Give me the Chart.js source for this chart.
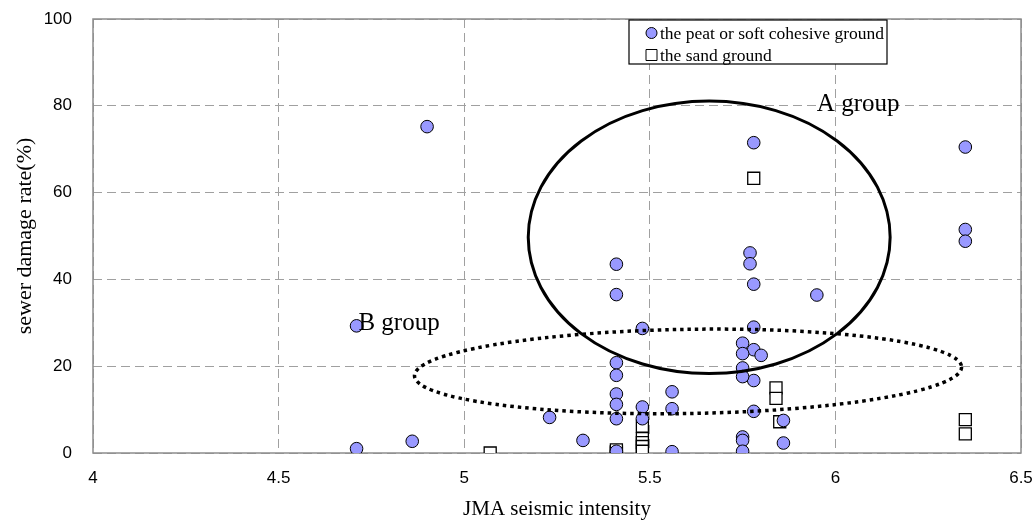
<!DOCTYPE html>
<html>
<head>
<meta charset="utf-8">
<script src="https://cdn.jsdelivr.net/npm/chart.js@4"></script>
<style>
    body { margin: 0; background: #fff; }
    #wrap { width: 1034px; height: 522px; }
</style>
</head>
<body>
<div id="wrap"><canvas id="myChart" width="1034" height="522"></canvas></div>
<script>
// peat or soft cohesive ground (circles)
var peatX = [4.71, 4.71, 4.86, 4.90, 5.23, 5.32,
    5.41, 5.41, 5.41, 5.41, 5.41, 5.41, 5.41, 5.41,
    5.48, 5.48, 5.48,
    5.56, 5.56, 5.56,
    5.77, 5.77,
    5.78, 5.78, 5.78, 5.78, 5.78, 5.78,
    5.75, 5.75, 5.75, 5.75, 5.75, 5.75, 5.75,
    5.80, 5.86, 5.86, 5.95,
    6.35, 6.35, 6.35];
var peatY = [1.0, 29.3, 2.7, 75.2, 8.2, 2.9,
    43.5, 36.5, 20.8, 17.9, 13.6, 11.2, 7.9, 0.4,
    28.7, 10.6, 7.9,
    14.1, 10.2, 0.3,
    46.1, 43.6,
    71.5, 38.9, 29.0, 23.8, 16.7, 9.6,
    25.3, 22.9, 19.6, 17.6, 3.7, 2.9, 0.4,
    22.5, 7.5, 2.3, 36.4,
    70.5, 51.5, 48.8];

// sand ground (squares)
var sandX = [5.07, 5.41, 5.41, 5.41, 5.48, 5.48, 5.48, 5.48, 5.48, 5.78, 5.84, 5.84, 5.85, 6.35, 6.35];
var sandY = [0.0, 0.0, 0.3, 0.7, 6.2, 3.3, 2.4, 1.5, 0.4, 63.3, 15.0, 12.6, 7.2, 7.7, 4.4];

var xTicks = [4, 4.5, 5, 5.5, 6, 6.5];
var yTicks = [0, 20, 40, 60, 80, 100];

var legendLabels = ['the peat or soft cohesive ground', 'the sand ground'];
var xTitle = 'JMA seismic intensity';
var yTitle = 'sewer damage rate(%)';

// group annotations, in data units
var groupA = { cx: 5.66, cy: 49.7, rx: 0.4875, ry: 31.4, label: 'A group', lx: 5.95, ly: 78.9 };
var groupB = { cx: 5.603, cy: 18.8, rx: 0.737, ry: 9.7, label: 'B group', lx: 4.715, ly: 28.4 };

function toPoints(xs, ys) {
    return xs.map(function (v, i) { return { x: v, y: ys[i] }; });
}

var serif = '"Liberation Serif", "Times New Roman", serif';
var sans = '"Liberation Sans", Arial, sans-serif';

var overlay = {
    id: 'overlay',
    beforeDatasetsDraw: function (chart) {
        var ctx = chart.ctx, a = chart.chartArea;
        ctx.save();
        ctx.strokeStyle = '#8c8c8c';
        ctx.lineWidth = 1.5;
        ctx.strokeRect(a.left, a.top, a.right - a.left, a.bottom - a.top);
        ctx.restore();
    },
    afterDatasetsDraw: function (chart) {
        var ctx = chart.ctx;
        var xs = chart.scales.x, ys = chart.scales.y;

        // A group - solid ellipse
        ctx.save();
        ctx.strokeStyle = '#000';
        ctx.lineWidth = 3;
        var ax = xs.getPixelForValue(groupA.cx), ay = ys.getPixelForValue(groupA.cy);
        var arx = xs.getPixelForValue(groupA.cx + groupA.rx) - ax;
        var ary = ay - ys.getPixelForValue(groupA.cy + groupA.ry);
        ctx.beginPath();
        ctx.ellipse(ax, ay, arx, ary, 0, 0, Math.PI * 2);
        ctx.stroke();

        // B group - dotted ellipse
        var bx = xs.getPixelForValue(groupB.cx), by = ys.getPixelForValue(groupB.cy);
        var brx = xs.getPixelForValue(groupB.cx + groupB.rx) - bx;
        var bry = by - ys.getPixelForValue(groupB.cy + groupB.ry);
        ctx.lineWidth = 3.5;
        ctx.setLineDash([3.5, 4]);
        ctx.beginPath();
        ctx.ellipse(bx, by, brx, bry, -0.016, 0, Math.PI * 2);
        ctx.stroke();
        ctx.setLineDash([]);

        // group labels
        ctx.fillStyle = '#000';
        ctx.font = '25px ' + serif;
        ctx.textBaseline = 'alphabetic';
        ctx.textAlign = 'left';
        ctx.fillText(groupA.label, xs.getPixelForValue(groupA.lx), ys.getPixelForValue(groupA.ly));
        ctx.fillText(groupB.label, xs.getPixelForValue(groupB.lx), ys.getPixelForValue(groupB.ly));
        ctx.restore();

        // legend box
        ctx.save();
        var lx = 629, ly = 20, lw = 258, lh = 44;
        ctx.fillStyle = '#fff';
        ctx.fillRect(lx, ly, lw, lh);
        ctx.strokeStyle = '#000';
        ctx.lineWidth = 1.2;
        ctx.strokeRect(lx, ly, lw, lh);
        chart.data.datasets.forEach(function (ds, i) {
            var my = ly + 13 + i * 22;
            ctx.fillStyle = ds.backgroundColor;
            ctx.strokeStyle = ds.borderColor;
            ctx.lineWidth = 1;
            ctx.beginPath();
            if (ds.pointStyle === 'rect') {
                ctx.rect(646, my - 5.5, 11, 11);
            } else {
                ctx.arc(651.5, my, 5.5, 0, Math.PI * 2);
            }
            ctx.fill();
            ctx.stroke();
            ctx.fillStyle = '#000';
            ctx.font = '17.5px ' + serif;
            ctx.textBaseline = 'middle';
            ctx.fillText(legendLabels[i], 660, my + 1);
        });
        ctx.restore();
    }
};

var ctx = document.getElementById('myChart').getContext('2d');
var myChart = new Chart(ctx, {
    type: 'scatter',
    data: {
        datasets: [{
            label: legendLabels[0],
            data: toPoints(peatX, peatY),
            pointStyle: 'circle',
            pointRadius: 6.3,
            pointHoverRadius: 6.3,
            backgroundColor: '#9999ff',
            borderColor: '#000',
            borderWidth: 1
        }, {
            label: legendLabels[1],
            data: toPoints(sandX, sandY),
            pointStyle: 'rect',
            pointRadius: 8.5,
            pointHoverRadius: 8.5,
            backgroundColor: '#ffffff',
            borderColor: '#000',
            borderWidth: 1.3
        }]
    },
    options: {
        responsive: false,
        animation: false,
        layout: {
            padding: { left: 0, right: 13, top: 19, bottom: 0 }
        },
        plugins: {
            legend: { display: false },
            tooltip: { enabled: false }
        },
        scales: {
            x: {
                type: 'linear',
                min: xTicks[0],
                max: xTicks[xTicks.length - 1],
                afterBuildTicks: function (scale) {
                    scale.ticks = xTicks.map(function (v) { return { value: v }; });
                },
                afterFit: function (scale) {
                    scale.height = 69;
                    scale.paddingLeft = 0;
                    scale.paddingRight = 0;
                },
                grid: {
                    color: '#a0a0a0',
                    lineWidth: 1,
                    drawTicks: false
                },
                border: { display: false, dash: [9, 5] },
                ticks: {
                    padding: 15,
                    color: '#000',
                    font: { family: sans, size: 17 },
                    callback: function (value) { return String(value); }
                },
                title: {
                    display: true,
                    text: xTitle,
                    color: '#000',
                    padding: { top: 0, bottom: 0 },
                    font: { family: serif, size: 21 }
                }
            },
            y: {
                min: yTicks[0],
                max: yTicks[yTicks.length - 1],
                afterBuildTicks: function (scale) {
                    scale.ticks = yTicks.map(function (v) { return { value: v }; });
                },
                afterFit: function (scale) {
                    scale.width = 93;
                    scale.paddingTop = 0;
                    scale.paddingBottom = 0;
                },
                grid: {
                    color: '#a0a0a0',
                    lineWidth: 1,
                    drawTicks: false
                },
                border: { display: false, dash: [9, 5] },
                ticks: {
                    padding: 21,
                    color: '#000',
                    font: { family: sans, size: 17 },
                    callback: function (value) { return String(value); }
                },
                title: {
                    display: true,
                    text: yTitle,
                    color: '#000',
                    padding: { top: 12, bottom: 0 },
                    font: { family: serif, size: 22 }
                }
            }
        }
    },
    plugins: [overlay]
});
</script>
</body>
</html>
